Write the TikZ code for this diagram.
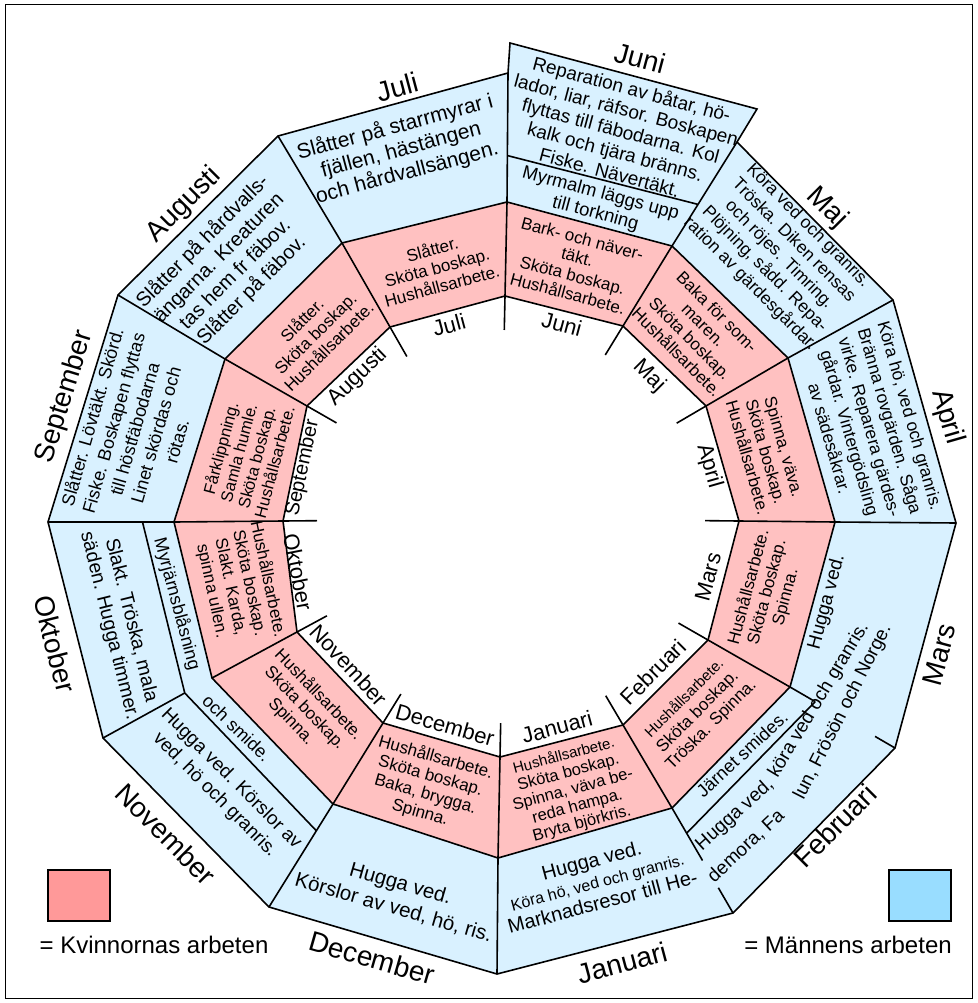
\documentclass[tikz,border=0pt]{standalone}
\usepackage{fontspec}
\setmainfont{Liberation Sans}
\usetikzlibrary{calc}

\definecolor{menblue}{RGB}{217,241,255}
\definecolor{womenpink}{RGB}{255,193,193}
\definecolor{legblue}{RGB}{153,221,255}
\definecolor{legpink}{RGB}{255,153,153}

\tikzset{
  ringline/.style={line width=1.6pt, line join=miter},
  menTxt/.style={align=center, inner sep=0pt, font=\fontsize{19}{21.5}\selectfont},
  womenTxt/.style={align=center, inner sep=0pt, font=\fontsize{17}{19}\selectfont},
  outMonth/.style={inner sep=0pt, font=\fontsize{28}{30}\selectfont},
  inMonth/.style={inner sep=0pt, font=\fontsize{22}{24}\selectfont},
  keybox/.style={draw, line width=1.6pt, minimum width=62pt, minimum height=51pt, inner sep=0pt},
  keyTxt/.style={inner sep=0pt, font=\fontsize{24}{26}\selectfont}
}

\begin{document}
\begin{tikzpicture}[x=1pt, y=-1pt]
    \useasboundingbox (0,0) rectangle (977,1003);
    \draw [line width=1pt] (5,5) rectangle (972,998);

    % outer ring corners
    \coordinate (o0) at (956,523);
    \coordinate (o30) at (893,300);
    \coordinate (o60) at (737,142);
    \coordinate (o90) at (508,73);
    \coordinate (o120) at (278,136);
    \coordinate (o150) at (118,295);
    \coordinate (o180) at (48,522);
    \coordinate (o210) at (103,738);
    \coordinate (o240) at (269,907);
    \coordinate (o270) at (497,974);
    \coordinate (o300) at (733,913);
    \coordinate (o330) at (895,748);
    \coordinate (jl) at (510,43);
    \coordinate (jr) at (757,109);
    % middle ring corners
    \coordinate (m0) at (835,522);
    \coordinate (m30) at (788,358);
    \coordinate (m60) at (672,246);
    \coordinate (m90) at (507,202);
    \coordinate (m120) at (342,243);
    \coordinate (m150) at (225,359);
    \coordinate (m180) at (174,522);
    \coordinate (m210) at (212,678);
    \coordinate (m240) at (333,804);
    \coordinate (m270) at (498,858);
    \coordinate (m300) at (672,808);
    \coordinate (m330) at (790,687);
    % inner corners
    \coordinate (i0) at (739,521);
    \coordinate (i30) at (706,406);
    \coordinate (i60) at (623,326);
    \coordinate (i90) at (505,296);
    \coordinate (i120) at (390,327);
    \coordinate (i150) at (307,406);
    \coordinate (i180) at (283,521);
    \coordinate (i210) at (297,632);
    \coordinate (i240) at (383,723);
    \coordinate (i270) at (500,757);
    \coordinate (i300) at (623,725);
    \coordinate (i330) at (708,640);
    % strips and gaps
    \coordinate (s1) at ($(m180)!0.25!(o180)$);
    \coordinate (s2) at ($(m210)!0.25!(o210)$);
    \coordinate (s3) at ($(m240)!0.26!(o240)$);
    \coordinate (jd1) at ($(m90)!0.36!(o90)$);
    \coordinate (jd2) at ($(m60)!0.4!(o60)$);
    \coordinate (f1) at ($(m300)!0.24!(o300)$);
    \coordinate (f2) at ($(m330)!0.24!(o330)$);
    \coordinate (g300a) at ($(m300)!0.5!(o300)$);
    \coordinate (g300b) at ($(m300)!0.76!(o300)$);
    \coordinate (g330a) at ($(m330)!0.81!(o330)$);

    \draw [ringline, fill=menblue] (o0) -- (o30) -- (o60) -- (jr) -- (jl) -- (o90) -- (o120) -- (o150)
        -- (o180) -- (o210) -- (o240) -- (o270) -- (o300) -- (o330) -- cycle;
    \draw [ringline, fill=womenpink] (m0) -- (m30) -- (m60) -- (m90) -- (m120) -- (m150)
        -- (m180) -- (m210) -- (m240) -- (m270) -- (m300) -- (m330) -- cycle;
    \draw [ringline, fill=white] (i0) -- (i30) -- (i60) -- (i90) -- (i120) -- (i150)
        -- (i180) -- (i210) -- (i240) -- (i270) -- (i300) -- (i330) -- cycle;

    % month borders
    \draw [ringline] (o0) -- (m0) -- (i0) -- ($(i0)!-34pt!(m0)$);
    \draw [ringline] (o30) -- (m30) -- (i30) -- ($(i30)!-34pt!(m30)$);
    \draw [ringline] (o60) -- (m60) -- (i60) -- ($(i60)!-34pt!(m60)$);
    \draw [ringline] (o90) -- (m90) -- (i90) -- ($(i90)!-34pt!(m90)$);
    \draw [ringline] (o120) -- (m120) -- (i120) -- ($(i120)!-34pt!(m120)$);
    \draw [ringline] (o150) -- (m150) -- (i150) -- ($(i150)!-34pt!(m150)$);
    \draw [ringline] (o180) -- (m180) -- (i180) -- ($(i180)!-34pt!(m180)$);
    \draw [ringline] (o210) -- (s2);
    \draw [ringline] (m210) -- (i210) -- ($(i210)!-34pt!(m210)$);
    \draw [ringline] (o240) -- (m240) -- (i240) -- ($(i240)!-34pt!(m240)$);
    \draw [ringline] (o270) -- (m270) -- (i270) -- ($(i270)!-34pt!(m270)$);
    \draw [ringline] (o300) -- (g300b);
    \draw [ringline] (g300a) -- (m300) -- (i300) -- ($(i300)!-34pt!(m300)$);
    \draw [ringline] (o330) -- (g330a);
    \draw [ringline] (f2) -- (m330) -- (i330) -- ($(i330)!-34pt!(m330)$);
    \draw [ringline] (s1) -- (s2) -- (s3);
    \draw [ringline] (jd1) -- (jd2);
    \draw [ringline] (f1) -- (f2);

    % month names outside
    \node [outMonth, rotate=15] (juli_o) at (397,87) {Juli};
    \node [outMonth, rotate=-15] (juni_o) at (640,58) {Juni};
    \node [outMonth, rotate=-45] (maj_o) at (827,208) {Maj};
    \node [outMonth, rotate=-74] (april_o) at (947,417) {April};
    \node [outMonth, rotate=75] (mars_o) at (939,655) {Mars};
    \node [outMonth, rotate=45] (feb_o) at (835,826) {Februari};
    \node [outMonth, rotate=15] (jan_o) at (622,963) {Januari};
    \node [outMonth, rotate=-16] (dec_o) at (372,958) {December};
    \node [outMonth, rotate=-45] (nov_o) at (166,834) {November};
    \node [outMonth, rotate=-76] (okt_o) at (55,644) {Oktober};
    \node [outMonth, rotate=73] (sep_o) at (65,397) {September};
    \node [outMonth, rotate=45] (aug_o) at (184,205) {Augusti};

    % month names inside
    \node [inMonth, rotate=15] (juli_i) at (449,325) {Juli};
    \node [inMonth, rotate=-15] (juni_i) at (562,324) {Juni};
    \node [inMonth, rotate=-45] (maj_i) at (649,376) {Maj};
    \node [inMonth, rotate=-74] (april_i) at (709,466) {April};
    \node [inMonth, rotate=75] (mars_i) at (708,577) {Mars};
    \node [inMonth, rotate=45] (feb_i) at (653,672) {Februari};
    \node [inMonth, rotate=15] (jan_i) at (557,727) {Januari};
    \node [inMonth, rotate=-16] (dec_i) at (445,725) {December};
    \node [inMonth, rotate=-47] (nov_i) at (349,665) {November};
    \node [inMonth, rotate=-79] (okt_i) at (298,572) {Oktober};
    \node [inMonth, rotate=78, font=\fontsize{20}{22}\selectfont] (sep_i) at (303,468) {September};
    \node [inMonth, rotate=44] (aug_i) at (358,377) {Augusti};

    % mens work
    \node [menTxt, rotate=15, font=\fontsize{21}{23.5}\selectfont] (juli_m) at (401,150) {Slåtter på starrmyrar i\\fjällen, hästängen\\och hårdvallsängen.};
    \node [menTxt, rotate=-15] (juni_m) at (621,130) {Reparation av båtar, hö-\\lador, liar, räfsor. Boskapen\\flyttas till fäbodarna. Kol\\kalk och tjära bränns.\\Fiske. Nävertäkt.};
    \node [menTxt, rotate=-15, font=\fontsize{18.5}{20.5}\selectfont] (juni_m2) at (598,204) {Myrmalm läggs upp\\till torkning};
    \node [menTxt, rotate=-45, font=\fontsize{17.5}{20.5}\selectfont] (maj_m) at (779,255) {Köra ved och granris.\\Tröska. Diken rensas\\och röjes. Timring.\\Plöjning, sådd. Repa-\\ration av gärdesgårdar.};
    \node [menTxt, rotate=-74, font=\fontsize{17.5}{21}\selectfont] (april_m) at (870,427) {Köra hö, ved och granris.\\Bränna rovgärden. Såga\\virke. Reparera gärdes-\\gårdar. Vintergödsling\\av sädesåkrar.};
    \node [menTxt, rotate=75] (mars_m) at (827,602) {Hugga ved.};
    \node [menTxt, rotate=42] (feb_m1a) at (735,815) {Hugga ved,};
    \node [menTxt, rotate=59] (feb_m1b) at (819,700) {köra ved och granris.};
    \node [menTxt, rotate=43] (feb_m2a) at (746,846) {demora, Fa};
    \node [menTxt, rotate=63] (feb_m2b) at (843,712) {lun, Frösön och Norge.};
    \node [menTxt, rotate=43, font=\fontsize{18}{20}\selectfont] (feb_m3) at (742,754) {Järnet smides.};
    \node [menTxt, rotate=15, font=\fontsize{20}{21.5}\selectfont] (jan_m) at (597,881) {Hugga ved.\\{\fontsize{16}{18}\selectfont Köra hö, ved och granris.}\\Marknadsresor till He-};
    \node [menTxt, rotate=-16, font=\fontsize{20.5}{25}\selectfont] (dec_m) at (397,896) {Hugga ved.\\Körslor av ved, hö, ris.};
    \node [menTxt, rotate=-45, font=\fontsize{19}{23}\selectfont] (nov_m) at (223,787) {Hugga ved. Körslor av\\ved, hö och granris.};
    \node [menTxt, rotate=-44, font=\fontsize{18}{20}\selectfont] (nov_m2) at (237,728) {och smide.};
    \node [menTxt, rotate=-76, font=\fontsize{19.5}{22.5}\selectfont] (okt_m) at (120,623) {Slakt. Tröska, mala\\säden. Hugga timmer.};
    \node [menTxt, rotate=-75, font=\fontsize{18}{20}\selectfont] (okt_m2) at (177,604) {Myrjärnsblåsning};
    \node [menTxt, rotate=74, font=\fontsize{18}{22}\selectfont] (sep_m) at (134,429) {Slåtter. Lövtäkt. Skörd.\\Fiske. Boskapen flyttas\\till höstfäbodarna\\Linet skördas och\\rötas.};
    \node [menTxt, rotate=45, font=\fontsize{20}{23}\selectfont] (aug_m) at (227,266) {Slåtter på hårdvalls-\\ängarna. Kreaturen\\tas hem fr fäbov.\\Slåtter på fäbov.};

    % womens work
    \node [womenTxt, rotate=15] (juli_w) at (437,267) {Slåtter.\\Sköta boskap.\\Hushållsarbete.};
    \node [womenTxt, rotate=-15] (juni_w) at (575,266) {Bark- och näver-\\täkt.\\Sköta boskap.\\Hushållsarbete.};
    \node [womenTxt, rotate=-45] (maj_w) at (697,332) {Baka för som-\\maren.\\Sköta boskap.\\Hushållsarbete.};
    \node [womenTxt, rotate=-74] (april_w) at (766,452) {Spinna, väva.\\Sköta boskap.\\Hushållsarbete.};
    \node [womenTxt, rotate=75] (mars_w) at (767,592) {Hushållsarbete.\\Sköta boskap.\\Spinna.};
    \node [womenTxt, rotate=45] (feb_w) at (698,712) {{\fontsize{15}{17}\selectfont Hushållsarbete.}\\Sköta boskap.\\Tröska. Spinna.};
    \node [womenTxt, rotate=15, font=\fontsize{16.5}{17.5}\selectfont] (jan_w) at (573,790) {{\fontsize{15}{17}\selectfont Hushållsarbete.}\\Sköta boskap.\\Spinna, väva be-\\reda hampa.\\Bryta björkris.};
    \node [womenTxt, rotate=-16] (dec_w) at (428,785) {Hushållsarbete.\\Sköta boskap.\\Baka, brygga.\\Spinna.};
    \node [womenTxt, rotate=-46] (nov_w) at (305,708) {Hushållsarbete.\\Sköta boskap.\\Spinna.};
    \node [womenTxt, rotate=-78] (okt_w) at (240,585) {Hushållsarbete.\\Sköta boskap.\\Slakt. Karda,\\spinna ullen.};
    \node [womenTxt, rotate=75, font=\fontsize{16.5}{18.5}\selectfont] (sep_w) at (247,455) {Fårklippning.\\Samla humle.\\Sköta boskap.\\Hushållsarbete.};
    \node [womenTxt, rotate=45] (aug_w) at (315,333) {Slåtter.\\Sköta boskap.\\Hushållsarbete.};

    % key
    \node [keybox, fill=legpink] (key_w) at (79,895.5) {};
    \node [keyTxt] (key_w_txt) at (154,945) {= Kvinnornas arbeten};
    \node [keybox, fill=legblue] (key_m) at (920,895.5) {};
    \node [keyTxt] (key_m_txt) at (848,945) {= Männens arbeten};
\end{tikzpicture}
\end{document}
